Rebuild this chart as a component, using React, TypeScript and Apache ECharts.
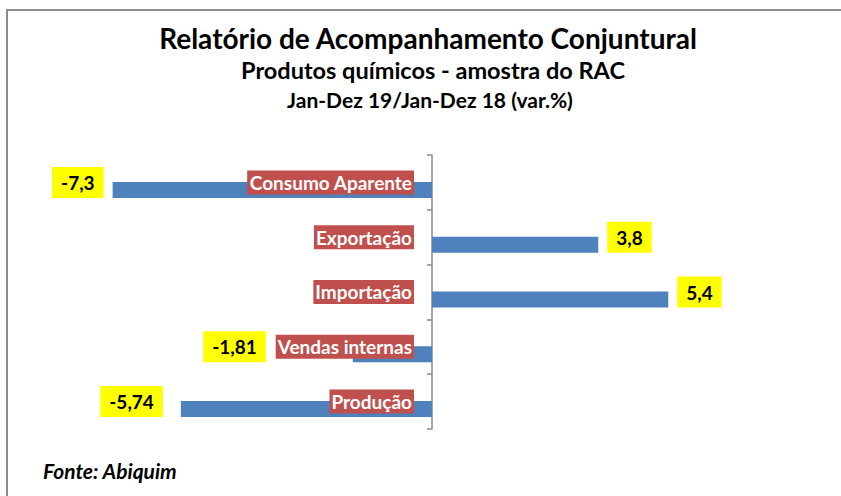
import React, { useEffect, useRef } from "react";
import * as echarts from "echarts";

const categories = ["Consumo Aparente", "Exportação", "Importação", "Vendas internas", "Produção"];
const values = [-7.3, 3.8, 5.4, -1.81, -5.74];
const valueLabels = ["-7,3", "3,8", "5,4", "-1,81", "-5,74"];

const titleMain = "Relatório de Acompanhamento Conjuntural";
const titleSub = "Produtos químicos - amostra do RAC";
const titlePeriod = "Jan-Dez 19/Jan-Dez 18 (var.%)";
const sourceText = "Fonte: Abiquim";

const FONT = "Lato, 'Open Sans', sans-serif";

export default function App() {
  const ref = useRef<HTMLDivElement>(null);
  useEffect(() => {
    if (!ref.current) return;
    const chart = echarts.init(ref.current, null, { renderer: "svg" });
    const extraOffsets = [0, 0, 0, -78, -9];
    const option = {
      animation: false,
      backgroundColor: "#ffffff",
      grid: { left: 82, right: 59, top: 155, bottom: 67, containLabel: false, outerBoundsMode: "none" },
      xAxis: {
        type: "value",
        min: -8,
        max: 8,
        show: false,
      },
      yAxis: {
        type: "category",
        inverse: true,
        data: categories,
        axisLine: { show: true, onZero: true, lineStyle: { color: "#8a8a8a", width: 1.5 } },
        axisTick: { show: true, length: 5, lineStyle: { color: "#8a8a8a", width: 1.5 } },
        splitLine: { show: false },
        axisLabel: { show: false },
      },
      series: [
        {
          type: "bar",
          data: categories.map((c) => ({
            value: 0,
            label: {
              show: true,
              position: "left",
              distance: 18,
              offset: [0, 7.5],
              formatter: c,
              color: "#ffffff",
              fontFamily: FONT,
              fontWeight: "bold",
              fontSize: 19,
              lineHeight: 19,
              backgroundColor: "#C0504D",
              padding: [3, 2, 2, 2],
            },
          })),
          barWidth: 16,
          barGap: "-6%",
          itemStyle: { color: "rgba(0,0,0,0)" },
          silent: true,
          z: 3,
        },
        {
          type: "bar",
          barWidth: 16,
          barGap: "-6%",
          itemStyle: { color: "#4F81BD" },
          z: 2,
          data: values.map((v, i) => ({
            value: v,
            label: {
              show: true,
              position: v < 0 ? "left" : "right",
              distance: 9,
              offset: [extraOffsets[i], -7.5],
              formatter: valueLabels[i],
              backgroundColor: "#FFFF00",
              color: "#000000",
              fontFamily: FONT,
              fontWeight: "bold",
              fontSize: 19,
              lineHeight: 19,
              padding: [6, 9, 6, 9],
            },
          })),
        },
      ],
      graphic: [
        {
          type: "rect",
          shape: { x: 7, y: 10, width: 900, height: 600 },
          style: { fill: "none", stroke: "#8c8c8c", lineWidth: 2 },
          silent: true,
        },
        {
          type: "text",
          x: 428,
          y: 38,
          style: {
            text: titleMain,
            fontFamily: FONT,
            fontWeight: "bold",
            fontSize: 28,
            fill: "#000",
            align: "center",
            verticalAlign: "middle",
          },
        },
        {
          type: "text",
          x: 433,
          y: 70,
          style: {
            text: titleSub,
            fontFamily: FONT,
            fontWeight: "bold",
            fontSize: 23.5,
            fill: "#000",
            align: "center",
            verticalAlign: "middle",
          },
        },
        {
          type: "text",
          x: 430,
          y: 99,
          style: {
            text: titlePeriod,
            fontFamily: FONT,
            fontWeight: "bold",
            fontSize: 21,
            fill: "#000",
            align: "center",
            verticalAlign: "middle",
          },
        },
        {
          type: "text",
          x: 43,
          y: 470,
          style: {
            text: sourceText,
            fontFamily: FONT,
            fontWeight: "bold",
            fontStyle: "italic",
            fontSize: 21,
            fill: "#000",
            align: "left",
            verticalAlign: "middle",
          },
        },
      ],
    };
    chart.setOption(option as any);
    return () => chart.dispose();
  }, []);
  return (
    <div
      ref={ref}
      style={{ position: "fixed", left: 0, top: 0, width: 841, height: 496 }}
    />
  );
}
